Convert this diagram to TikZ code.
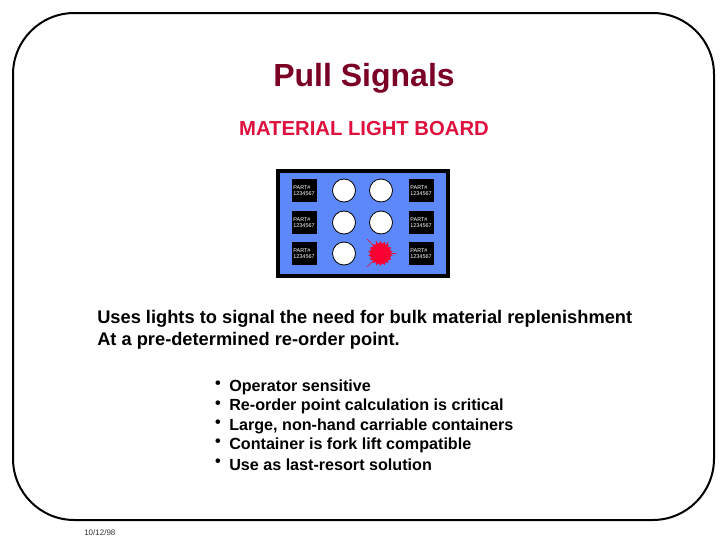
\documentclass[tikz,border=0pt]{standalone}
\usepackage{fontspec}
\setmainfont{Liberation Sans}
\usetikzlibrary{shapes.geometric}
\definecolor{titlered}{RGB}{122,0,38}
\definecolor{headred}{RGB}{222,16,62}
\definecolor{boardblue}{RGB}{92,136,250}
\definecolor{burstred}{RGB}{250,0,50}
\tikzstyle{slide} = [draw=black, line width=1.5pt, rounded corners=46pt]
\tikzstyle{partbox} = [fill=black, text=white, minimum width=18.75pt, minimum height=17.25pt, inner sep=0pt, align=left, font=\fontsize{4.1}{5}\selectfont]
\tikzstyle{lamp} = [circle, draw=black, fill=white, line width=0.6pt, minimum size=17.25pt, inner sep=0pt]
\tikzstyle{bodytext} = [font=\fontsize{13.7}{16}\selectfont\bfseries, text=black, anchor=west, inner sep=0pt]
\tikzstyle{bullettext} = [font=\fontsize{12.1}{14}\selectfont\bfseries, text=black, anchor=west, inner sep=0pt]
\newcommand{\partlabel}{PART\#\\1234567}
\begin{document}
\begin{tikzpicture}[x=0.75pt,y=-0.75pt]
\useasboundingbox (0,0) rectangle (728,546);
\draw [slide] (13,13) rectangle (714,520);
\node [font=\fontsize{24}{28}\selectfont\bfseries, text=titlered, inner sep=0pt] (title) at (364,78) {Pull Signals};
\node [font=\fontsize{15.2}{18}\selectfont\bfseries, text=headred, inner sep=0pt] (subtitle) at (364,129) {MATERIAL LIGHT BOARD};
% board
\draw [fill=boardblue, draw=black, line width=3pt] (278,171) rectangle (447.5,275.5);
\foreach \row/\y in {a/190.5,b/222.5,c/253.5}{
    \node [partbox] (part\row l) at (304,\y) {\partlabel};
    \node [partbox] (part\row r) at (421,\y) {\partlabel};
    \node [lamp] (lamp\row l) at (344,\y) {};
}
\node [lamp] (lampar) at (381,190.5) {};
\node [lamp] (lampbr) at (381,222.5) {};
% lit lamp
\draw [burstred, line width=0.5pt] (367,239) -- (381,253) -- (396,253.5);
\draw [burstred, line width=0.5pt] (367,267) -- (381,253) -- (376,241);
\draw [burstred, line width=0.5pt] (381,253) -- (388,242);
\node [star, star points=18, star point ratio=1.25, fill=burstred, minimum size=18.5pt, inner sep=0pt] (burst) at (380.5,253.5) {};
% text
\node [bodytext] (usesa) at (97,318.5) {Uses lights to signal the need for bulk material replenishment};
\node [bodytext] (usesb) at (97,340.5) {At a pre-determined re-order point.};
\foreach \n/\y/\t in {a/387/Operator sensitive,
    b/406.5/Re-order point calculation is critical,
    c/426/{Large, non-hand carriable containers},
    d/445/Container is fork lift compatible,
    e/464.5/Use as last-resort solution}{
    \node [bullettext] (item\n) at (229,\y) {\t};
    \node [bullettext, anchor=east] (dot\n) at (221,\y-2) {\textbullet};
}
\node [font=\fontsize{6}{7}\selectfont, text=black!80, inner sep=0pt, anchor=west] (date) at (84,533) {10/12/98};
\end{tikzpicture}
\end{document}
